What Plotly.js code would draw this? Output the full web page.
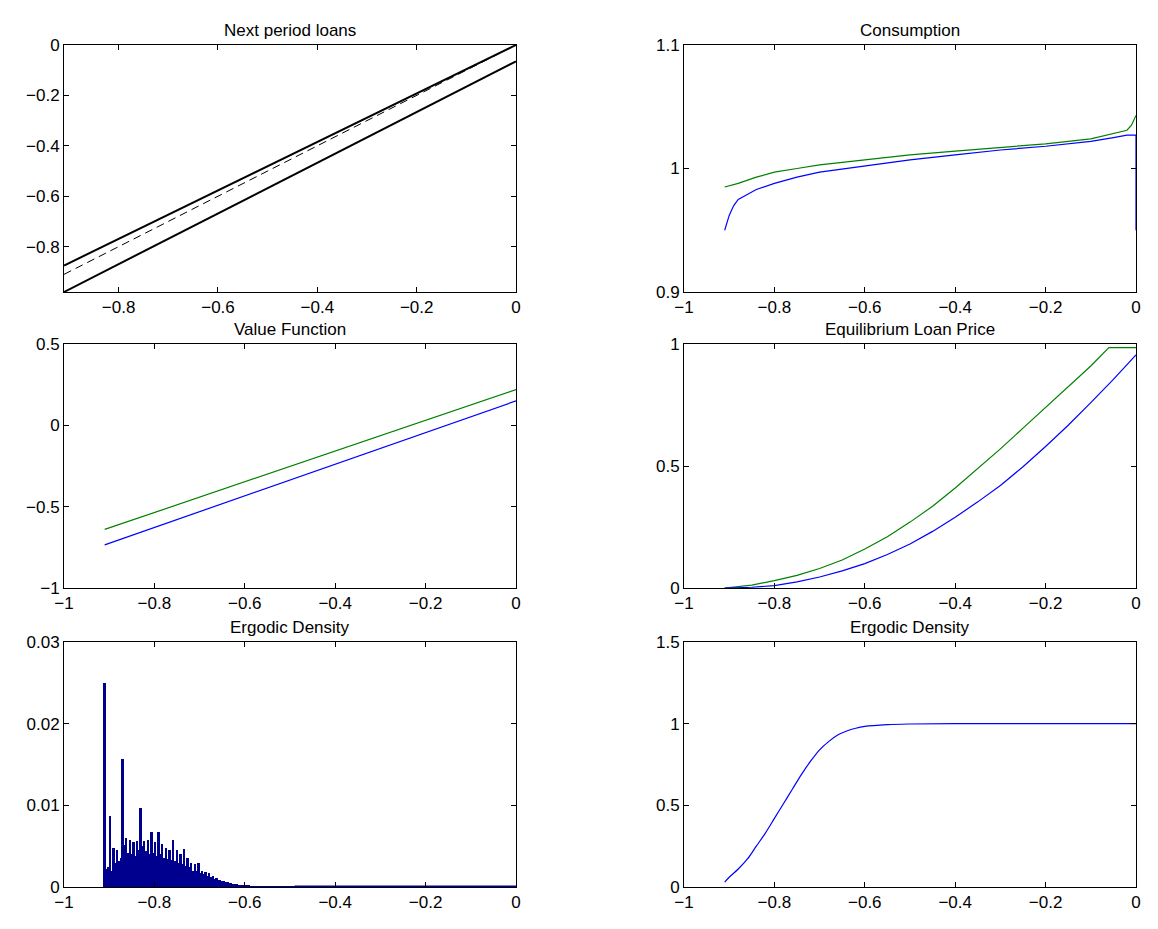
<!DOCTYPE html>
<html>
<head>
<script src="https://cdn.plot.ly/plotly-3.0.1.min.js"></script>
<style>body{margin:0;background:#fff}</style>
</head>
<body>
<div id="chart" style="width:1158px;height:929px"></div>
<script>
// Next period loans
const loanX = [-0.91, 0];
const loanUpperY = [-0.875, 0];
const loanLowerY = [-0.98, -0.065];
const loanDiagY = [-0.91, 0];

// Consumption
const consX = [-0.91, -0.9, -0.89, -0.88, -0.86, -0.84, -0.8, -0.75, -0.7, -0.6, -0.5, -0.4, -0.3, -0.2, -0.1, -0.05, -0.02, -0.01, 0, 0];
const consBlue = [0.95, 0.962, 0.970, 0.975, 0.979, 0.983, 0.988, 0.993, 0.997, 1.002, 1.007, 1.011, 1.015, 1.018, 1.022, 1.025, 1.027, 1.027, 1.027, 0.95];
const consGreenX = [-0.91, -0.88, -0.84, -0.8, -0.75, -0.7, -0.6, -0.5, -0.4, -0.3, -0.2, -0.1, -0.05, -0.02, -0.01, 0];
const consGreen = [0.985, 0.988, 0.993, 0.997, 1.0, 1.003, 1.007, 1.011, 1.014, 1.017, 1.020, 1.024, 1.028, 1.031, 1.035, 1.043];

// Value function
const valX = [-0.91, 0];
const valGreen = [-0.64, 0.22];
const valBlue = [-0.735, 0.15];

// Equilibrium loan price
const priceGreenX = [-0.91, -0.85, -0.8, -0.75, -0.7, -0.65, -0.6, -0.55, -0.5, -0.45, -0.4, -0.35, -0.3, -0.25, -0.2, -0.15, -0.1, -0.06, 0];
const priceGreen = [0, 0.012, 0.03, 0.052, 0.08, 0.115, 0.16, 0.21, 0.27, 0.335, 0.41, 0.49, 0.57, 0.655, 0.74, 0.825, 0.91, 0.985, 0.985];
const priceBlueX = [-0.91, -0.85, -0.8, -0.75, -0.7, -0.65, -0.6, -0.55, -0.5, -0.45, -0.4, -0.35, -0.3, -0.25, -0.2, -0.15, -0.1, -0.05, 0];
const priceBlue = [0, 0.003, 0.01, 0.025, 0.045, 0.07, 0.1, 0.137, 0.18, 0.232, 0.29, 0.353, 0.42, 0.497, 0.58, 0.667, 0.76, 0.855, 0.955];

// Ergodic density (histogram, bins of 0.004 starting at -0.91)
const densStart = -0.91, densStep = 0.004;
const densY = [
  0.025, 0.0022, 0.0025, 0.0087, 0.0020, 0.0048, 0.0030, 0.0045, 0.0032, 0.0036,
  0.0157, 0.0052, 0.0060, 0.0042, 0.0058, 0.0040, 0.0055, 0.0038, 0.0056, 0.0045,
  0.0097, 0.0050, 0.0056, 0.0044, 0.0057, 0.0040, 0.0067, 0.0042, 0.0055, 0.0038,
  0.0067, 0.0040, 0.0053, 0.0036, 0.0048, 0.0034, 0.0045, 0.0033, 0.0058, 0.0032,
  0.0045, 0.0030, 0.0040, 0.0028, 0.0047, 0.0026, 0.0035, 0.0024, 0.0030, 0.0020,
  0.0028, 0.0019, 0.0030, 0.0017, 0.0020, 0.0016, 0.0018, 0.0014, 0.0017, 0.0012,
  0.0013, 0.0010, 0.0011, 0.0008, 0.0009, 0.0007, 0.0007, 0.0006, 0.0006, 0.0005,
  0.0005, 0.0004, 0.0004, 0.00035, 0.0003, 0.00028, 0.00025, 0.0002, 0.0002, 0.00017,
  0.00015, 0.00012, 0.0001, 0.0001, 0.00008, 0.00007, 0.00006, 0.00005, 0.00005, 0.00004,
  0.00004, 0.00003, 0.00003, 0.00002, 0.00002, 0.00002, 0.00001, 0.00001, 0.00001, 0.00001,
  0.00001, 0.00001, 0.00001, 0.00001, 0.00001, 0.00001
];
const densX = densY.map((v, i) => densStart + i * densStep);
const densTailX = [-0.49, 0];
const densTailY = [0, 0];

// Cumulative ergodic density
const cdfX = [-0.91, -0.9, -0.88, -0.86, -0.84, -0.82, -0.8, -0.78, -0.76, -0.74, -0.72, -0.7, -0.68, -0.66, -0.64, -0.62, -0.6, -0.55, -0.5, -0.4, -0.2, 0];
const cdfY = [0.03, 0.06, 0.11, 0.17, 0.25, 0.33, 0.42, 0.51, 0.6, 0.69, 0.77, 0.84, 0.89, 0.93, 0.955, 0.972, 0.983, 0.994, 0.998, 1.0, 1.0, 1.0];

const BLUE = '#0000ff', GREEN = '#008000', NAVY = '#00008f';
const font = { family: 'Liberation Sans, Arial, sans-serif', size: 17, color: '#000' };

function ax(domain, range, dtick, anchor) {
    return {
        domain: domain, range: range, dtick: dtick, anchor: anchor,
        showgrid: false, zeroline: false, showline: true, mirror: 'ticks',
        linecolor: '#000', linewidth: 1, ticks: 'inside', ticklen: 5,
        tickcolor: '#000', tickfont: font, fixedrange: true
    };
}

const XL = [64 / 1158, 516 / 1158], XR = [684 / 1158, 1136 / 1158];
const Y1 = [1 - 292 / 929, 1 - 45 / 929], Y2 = [1 - 588 / 929, 1 - 344 / 929], Y3 = [1 - 887 / 929, 1 - 642 / 929];

const traces = [
    { x: loanX, y: loanUpperY, xaxis: 'x', yaxis: 'y', mode: 'lines', line: { color: '#000', width: 2 } },
    { x: loanX, y: loanLowerY, xaxis: 'x', yaxis: 'y', mode: 'lines', line: { color: '#000', width: 2 } },
    { x: loanX, y: loanDiagY, xaxis: 'x', yaxis: 'y', mode: 'lines', line: { color: '#000', width: 1, dash: '8px,5px' } },

    { x: consGreenX, y: consGreen, xaxis: 'x2', yaxis: 'y2', mode: 'lines', line: { color: GREEN, width: 1.2 } },
    { x: consX, y: consBlue, xaxis: 'x2', yaxis: 'y2', mode: 'lines', line: { color: BLUE, width: 1.2 } },

    { x: valX, y: valGreen, xaxis: 'x3', yaxis: 'y3', mode: 'lines', line: { color: GREEN, width: 1.2 } },
    { x: valX, y: valBlue, xaxis: 'x3', yaxis: 'y3', mode: 'lines', line: { color: BLUE, width: 1.2 } },

    { x: priceGreenX, y: priceGreen, xaxis: 'x4', yaxis: 'y4', mode: 'lines', line: { color: GREEN, width: 1.2 } },
    { x: priceBlueX, y: priceBlue, xaxis: 'x4', yaxis: 'y4', mode: 'lines', line: { color: BLUE, width: 1.2 } },

    { x: densX, y: densY, xaxis: 'x5', yaxis: 'y5', type: 'bar', width: 0.0042, marker: { color: NAVY, line: { width: 0 } } },
    { x: densTailX, y: densTailY, xaxis: 'x5', yaxis: 'y5', mode: 'lines', line: { color: NAVY, width: 3 } },

    { x: cdfX, y: cdfY, xaxis: 'x6', yaxis: 'y6', mode: 'lines', line: { color: BLUE, width: 1.2, shape: 'spline' } }
];

const titles = [
    ['Next period loans', (XL[0] + XL[1]) / 2, Y1[1]],
    ['Consumption', (XR[0] + XR[1]) / 2, Y1[1]],
    ['Value Function', (XL[0] + XL[1]) / 2, Y2[1]],
    ['Equilibrium Loan Price', (XR[0] + XR[1]) / 2, Y2[1]],
    ['Ergodic Density', (XL[0] + XL[1]) / 2, Y3[1]],
    ['Ergodic Density', (XR[0] + XR[1]) / 2, Y3[1]]
].map(t => ({
    text: t[0], x: t[1], y: t[2], xref: 'paper', yref: 'paper',
    xanchor: 'center', yanchor: 'bottom', yshift: 3, showarrow: false, font: font
}));

Plotly.newPlot('chart', traces, {
    width: 1158, height: 929,
    margin: { l: 0, r: 0, t: 0, b: 0 },
    paper_bgcolor: '#fff', plot_bgcolor: '#fff',
    showlegend: false, bargap: 0,
    xaxis: ax(XL, [-0.91, 0], 0.2, 'y'),
    yaxis: ax(Y1, [-0.98, 0], 0.2, 'x'),
    xaxis2: ax(XR, [-1, 0], 0.2, 'y2'),
    yaxis2: ax(Y1, [0.9, 1.1], 0.1, 'x2'),
    xaxis3: ax(XL, [-1, 0], 0.2, 'y3'),
    yaxis3: ax(Y2, [-1, 0.5], 0.5, 'x3'),
    xaxis4: ax(XR, [-1, 0], 0.2, 'y4'),
    yaxis4: ax(Y2, [0, 1], 0.5, 'x4'),
    xaxis5: ax(XL, [-1, 0], 0.2, 'y5'),
    yaxis5: ax(Y3, [0, 0.03], 0.01, 'x5'),
    xaxis6: ax(XR, [-1, 0], 0.2, 'y6'),
    yaxis6: ax(Y3, [0, 1.5], 0.5, 'x6'),
    annotations: titles
}, { displayModeBar: false });
</script>
</body>
</html>
